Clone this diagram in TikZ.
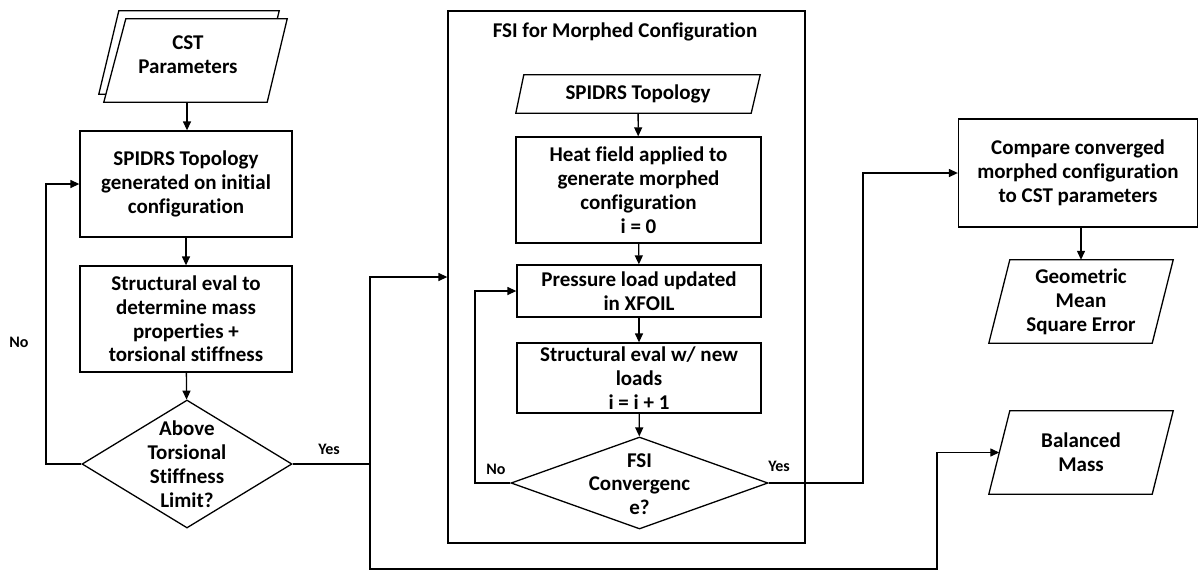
\documentclass[tikz,border=0pt]{standalone}
\usepackage{fontspec}
\setmainfont{Carlito}[Ligatures={NoCommon}]
\usetikzlibrary{shapes.geometric,arrows.meta}
\tikzset{
  ln/.style={line width=1.3pt},
  boxn/.style={ln, draw, rectangle, align=center, inner sep=0pt},
  paran/.style={rectangle, align=center, inner sep=0pt},
  dian/.style={ln, draw, diamond, inner sep=0pt},
  txt/.style={align=center, inner sep=0pt},
  lbl/.style={inner sep=0pt, font=\fontsize{16}{18}\selectfont\bfseries},
  arr/.style={ln, -{Triangle[length=9pt,width=8pt]}},
}
\begin{document}
\begin{tikzpicture}[x=1pt,y=-1pt,font=\fontsize{21}{23.8}\selectfont\bfseries]
\useasboundingbox[fill=white] (0,0) rectangle (1199,571);

% ---------- left column ----------
\node[paran, minimum width=183pt, minimum height=83pt] (cst) at (195.5,60.5) {};
\draw[ln, fill=white] ([xshift=15pt,yshift=8pt]cst.north west) -- ([xshift=-8pt,yshift=8pt]cst.north east)
  -- ([xshift=-28pt,yshift=8pt]cst.south east) -- ([xshift=-5pt,yshift=8pt]cst.south west) -- cycle;
\draw[ln, fill=white] ([xshift=22pt]cst.north west) -- (cst.north east)
  -- ([xshift=-20pt]cst.south east) -- (cst.south west) -- cycle;
\node[txt] (cstt) at (188,55) {CST\\Parameters};

\node[boxn, minimum width=212pt, minimum height=106pt] (sp1) at (186,184)
  {SPIDRS Topology\\generated on initial\\configuration};
\node[boxn, minimum width=212pt, minimum height=106pt] (st1) at (186,319)
  {Structural eval to\\determine mass\\properties +\\torsional stiffness};
\node[dian, minimum width=210pt, minimum height=128pt] (d1) at (187,464) {};
\node[txt] (d1t) at (187,464) {Above\\Torsional\\Stiffness\\Limit?};

\coordinate (nol) at (46,464);
\coordinate (jy) at (370,464);
\coordinate (jb) at (370,569);
\coordinate (jb2) at (937,569);

\draw[arr] (cst.south -| 187,0) -- (sp1.north -| 187,0);
\draw[arr] (sp1) -- (st1);
\draw[arr] (st1) -- (d1);
\draw[arr] (d1.west) -- (nol) |- (sp1.west);
\node[lbl] (no1) at (19,342) {No};
\node[lbl] (yes1) at (329,449) {Yes};

% ---------- FSI block ----------
\node[boxn, minimum width=357pt, minimum height=532pt] (fsi) at (626.5,277) {};
\node[txt] (fsit) at (625,32) {FSI for Morphed Configuration};

\node[paran, minimum width=244pt, minimum height=38pt] (sp2) at (638,94) {SPIDRS Topology};
\draw[ln] ([xshift=8pt]sp2.north west) -- (sp2.north east)
  -- ([xshift=-9pt]sp2.south east) -- (sp2.south west) -- cycle;
\node[boxn, minimum width=245pt, minimum height=106pt] (heat) at (638.5,190)
  {Heat field applied to\\generate morphed\\configuration\\i = 0};
\node[boxn, minimum width=244pt, minimum height=52pt] (pr) at (639,291)
  {Pressure load updated\\in XFOIL};
\node[boxn, minimum width=244pt, minimum height=70pt] (st2) at (639,378)
  {Structural eval w/ new\\loads\\i = i + 1};
\node[dian, minimum width=257pt, minimum height=92pt] (d2) at (639.5,483) {};
\node[txt] (d2t) at (639.5,484) {FSI\\Convergenc\\e?};

\coordinate (no2c) at (475,483);
\coordinate (yes2c) at (863,483);

\draw[arr] (sp2) -- (heat);
\draw[arr] (heat) -- (pr);
\draw[arr] (pr) -- (st2);
\draw[arr] (st2) -- (d2);
\draw[arr] (d2.west) -- (no2c) |- (pr.west);
\node[lbl] (no2) at (496,469) {No};
\node[lbl] (yes2) at (779,466) {Yes};

% ---------- right column ----------
\node[boxn, minimum width=239pt, minimum height=108pt] (cmp) at (1078,173)
  {Compare converged\\morphed configuration\\to CST parameters};
\node[paran, minimum width=184pt, minimum height=83pt] (geo) at (1081,301.5)
  {Geometric\\Mean\\Square Error};
\draw[ln] ([xshift=21pt]geo.north west) -- (geo.north east)
  -- ([xshift=-21pt]geo.south east) -- (geo.south west) -- cycle;
\node[paran, minimum width=184pt, minimum height=83pt] (bal) at (1081,452.5)
  {Balanced\\Mass};
\draw[ln] ([xshift=21pt]bal.north west) -- (bal.north east)
  -- ([xshift=-21pt]bal.south east) -- (bal.south west) -- cycle;

\draw[arr] (geo.north |- cmp.south) -- (geo.north);
\draw[arr] (d2.east) -- (yes2c) |- (cmp.west);

% Yes branch from first decision
\draw[arr] (d1.east) -- (jy) |- (fsi.west);
\draw[arr] (jy) -- (jb) -- (jb2) |- ([xshift=10.5pt]bal.west);
\end{tikzpicture}
\end{document}
